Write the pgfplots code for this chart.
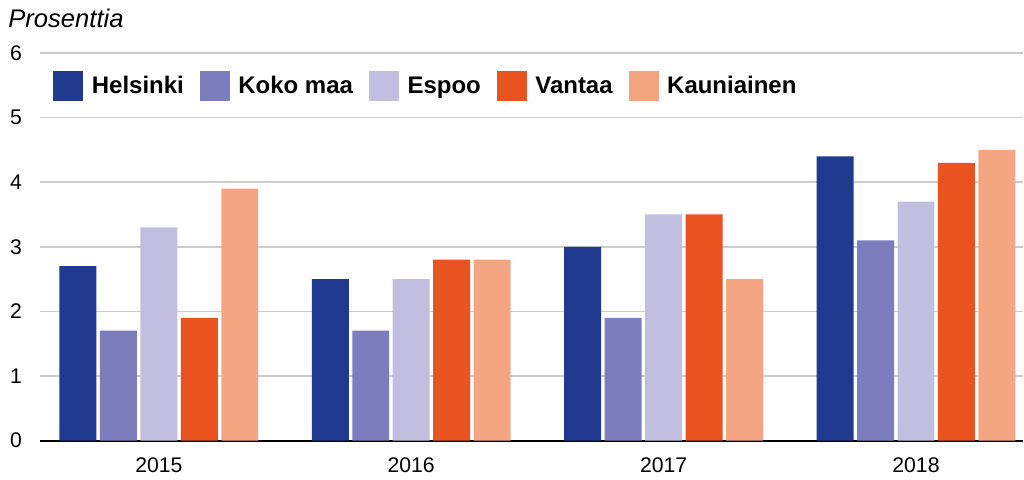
\documentclass[border=0pt]{standalone}
\usepackage{fontspec}
\setmainfont{Liberation Sans}
\usepackage{pgfplots}
\pgfplotsset{compat=1.18}

\definecolor{helsinki}{HTML}{1F3A8F}
\definecolor{kokomaa}{HTML}{7B7DBC}
\definecolor{espoo}{HTML}{C0BFE0}
\definecolor{vantaa}{HTML}{E8531F}
\definecolor{kauniainen}{HTML}{F4A683}
\definecolor{gridgray}{HTML}{CCCCCC}

\begin{document}
\begin{tikzpicture}
  \begin{axis}[
    ybar=1.75pt,
    bar width=18.5pt,
    scale only axis,
    width=492pt, height=194pt,
    xmin=-0.471, xmax=3.424,
    ymin=0, ymax=6,
    xtick={0,1,2,3},
    xticklabels={2015,2016,2017,2018},
    ytick={1,2,3,4,5,6},
    extra y ticks={0},
    extra y tick style={grid style={black, line width=1pt}},
    ymajorgrids,
    grid style={gridgray, line width=0.75pt},
    axis line style={draw=none},
    major tick length=0pt,
    tick style={draw=none},
    ticklabel style={font=\fontsize{10.6}{12}\selectfont},
    yticklabel style={anchor=east, xshift=-5.5pt},
    xticklabel style={yshift=-5pt},
    /pgf/number format/assume math mode=true,
    legend image code/.code={\fill[#1] (0pt,-7.5pt) rectangle (15pt,7.5pt);},
    legend columns=-1,
    legend style={
      draw=none, fill=none, inner sep=0pt,
      at={(0,1)}, anchor=north west, xshift=6.5pt, yshift=-9pt,
      font=\fontsize{12}{14}\selectfont\bfseries,
      nodes={inner sep=0pt},
      /tikz/every odd column/.append style={column sep=4.3pt},
      /tikz/every even column/.append style={column sep=8pt},
    },
    legend cell align=left,
    clip=false,
  ]
    \addplot[fill=helsinki, draw=none] coordinates {(0,2.7) (1,2.5) (2,3.0) (3,4.4)};
    \addplot[fill=kokomaa, draw=none] coordinates {(0,1.7) (1,1.7) (2,1.9) (3,3.1)};
    \addplot[fill=espoo, draw=none] coordinates {(0,3.3) (1,2.5) (2,3.5) (3,3.7)};
    \addplot[fill=vantaa, draw=none] coordinates {(0,1.9) (1,2.8) (2,3.5) (3,4.3)};
    \addplot[fill=kauniainen, draw=none] coordinates {(0,3.9) (1,2.8) (2,2.5) (3,4.5)};
    \legend{Helsinki, Koko maa, Espoo, Vantaa, Kauniainen}
    \node[anchor=base west, inner sep=0pt, font=\fontsize{12.8}{14}\selectfont\itshape]
      at (axis description cs:0,1) [xshift=-16pt, yshift=12.5pt] {Prosenttia};
  \end{axis}
  \path[use as bounding box] ([xshift=-20pt, yshift=-19pt]current axis.south west)
    rectangle ([yshift=26.5pt]current axis.north east);
\end{tikzpicture}
\end{document}
